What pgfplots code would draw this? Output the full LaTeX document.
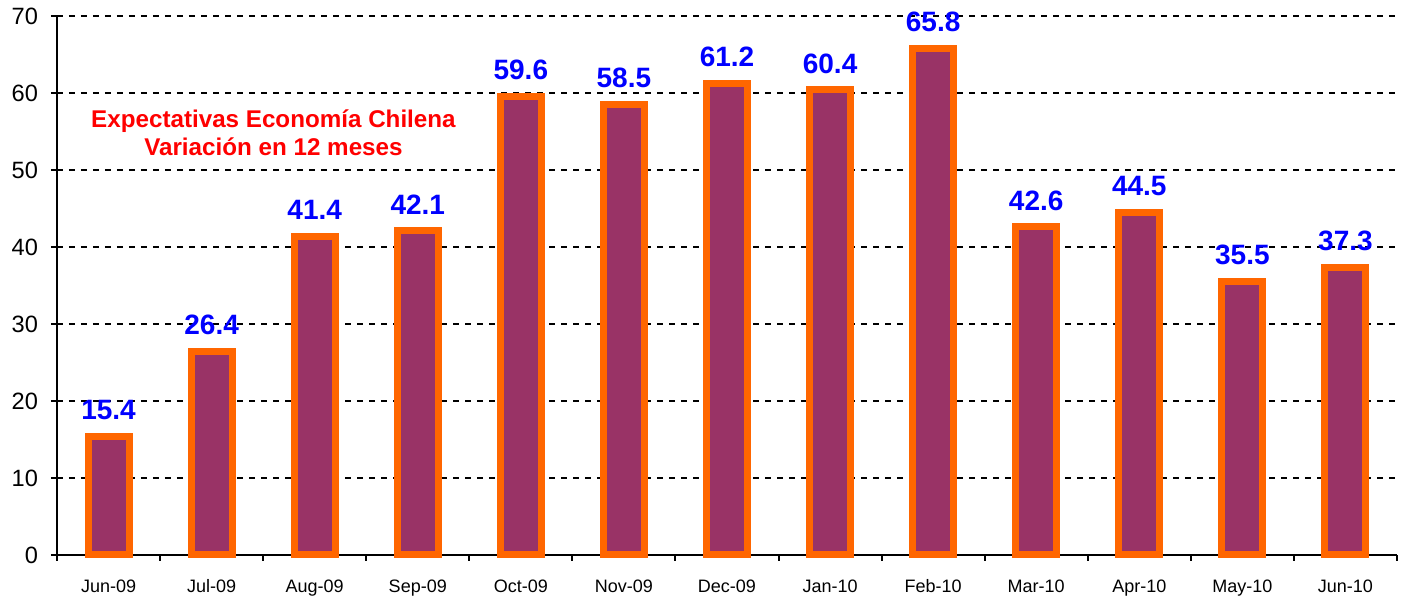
\documentclass[border=0pt]{standalone}
\usepackage{pgfplots}
\pgfplotsset{compat=1.18}
\usepackage{fontspec}
\setmainfont{Liberation Sans}
\definecolor{barfill}{HTML}{993366}
\definecolor{barline}{HTML}{FF6600}
\begin{document}
\begin{tikzpicture}
\begin{axis}[
  scale only axis,
  width=670pt, height=269.5pt,
  xmin=-0.5, xmax=12.5,
  ymin=0, ymax=70,
  ytick={0,10,...,70},
  xtick={0,...,12},
  xticklabels={Jun-09,Jul-09,Aug-09,Sep-09,Oct-09,Nov-09,Dec-09,Jan-10,Feb-10,Mar-10,Apr-10,May-10,Jun-10},
  minor xtick={-0.5,0.5,...,12.5},
  axis x line*=bottom,
  axis y line*=left,
  axis line style={line width=1.2pt, -},
  major x tick style={draw=none},
  minor x tick style={line width=1pt, black},
  minor tick length=3pt,
  major tick length=3pt,
  ytick style={line width=1pt, black},
  tick align=outside,
  ymajorgrids,
  grid style={black, dashed, line width=0.6pt},
  yticklabel style={font=\fontsize{11.8pt}{12pt}\selectfont, xshift=-3pt},
  xticklabel style={font=\fontsize{9pt}{10pt}\selectfont, text height=7pt, text depth=2pt, yshift=-5pt},
  /pgf/number format/assume math mode=true,
  ybar, bar width=20.5pt,
  clip=false,
]
\addplot[fill=barfill, draw=barline, line width=3.5pt,
  nodes near coords,
  nodes near coords style={font=\bfseries\fontsize{14pt}{14pt}\selectfont, text=blue, anchor=south, inner sep=0pt, yshift=6.5pt, /pgf/number format/.cd, fixed, fixed zerofill, precision=1}]
coordinates {(0,15.4) (1,26.4) (2,41.4) (3,42.1) (4,59.6) (5,58.5) (6,61.2) (7,60.4) (8,65.8) (9,42.6) (10,44.5) (11,35.5) (12,37.3)};
\node[text=red, font=\bfseries\fontsize{12.1pt}{14pt}\selectfont, align=center] at (axis cs:1.6,54.8) {Expectativas Economía Chilena\\Variación en 12 meses};
\coordinate (SW) at (rel axis cs:0,0);
\coordinate (NE) at (rel axis cs:1,1);
\end{axis}
\pgfresetboundingbox
\path ([shift={(-28.5pt,-21.5pt)}]SW) rectangle ([shift={(3.5pt,8pt)}]NE);
\end{tikzpicture}
\end{document}
